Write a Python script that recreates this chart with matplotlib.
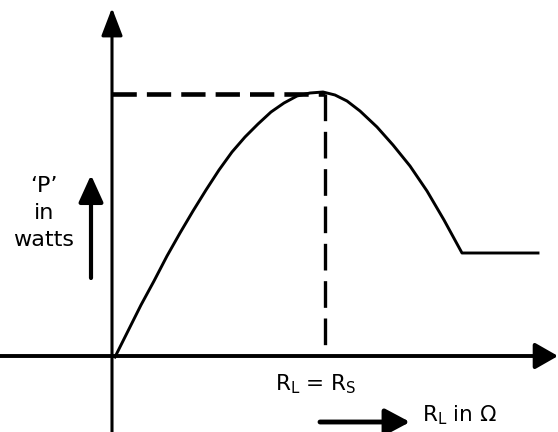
import matplotlib.pyplot as plt

plt.rcParams['mathtext.default'] = 'regular'

# power curve P vs R_L (arbitrary units)
rl = [0, 13, 26, 39, 52, 65, 78, 91, 104, 117, 130, 143, 156, 169, 182, 195, 208,
      220, 232, 245, 262, 278, 295, 312, 329, 347, 423]
power = [0, 26, 52, 76, 101, 124, 146, 167, 187, 205, 220, 233, 245, 254, 261, 264, 265,
         262, 256, 246, 230, 212, 191, 166, 137, 104, 104]
peak_x, peak_y = 210, 263
x_mark_label = 'R$_{L}$ = R$_{S}$'

fig = plt.figure(figsize=(5.58, 4.32), dpi=100)
ax = fig.add_axes([0, 0, 1, 1])
ax.set_xlim(-115, 443)
ax.set_ylim(-75, 357)
ax.axis('off')

# axes with arrow heads
ax.annotate('', xy=(-3, 349), xytext=(-3, -75),
            arrowprops=dict(arrowstyle='-|>,head_length=17,head_width=6.5', mutation_scale=1,
                            lw=2.2, color='black', shrinkA=0, shrinkB=0))
ax.annotate('', xy=(443, 1), xytext=(-115, 1),
            arrowprops=dict(arrowstyle='-|>,head_length=14,head_width=8', mutation_scale=1,
                            lw=2.8, color='black', shrinkA=0, shrinkB=0))

# dashed guides to the maximum
ax.plot([-3, peak_x], [peak_y, peak_y], color='black', lw=3.3, ls=(0, (5.3, 2.2)))
ax.plot([peak_x, peak_x], [peak_y, 1], color='black', lw=2.4, ls=(0, (8, 3.2)))

ax.plot(rl, power, color='black', lw=2.1, solid_joinstyle='round')

# labels
ax.text(-71, 144, '\u2018P\u2019\nin\nwatts', ha='center', va='center', fontsize=16,
        linespacing=1.45)
ax.annotate('', xy=(-24, 182), xytext=(-24, 79),
            arrowprops=dict(arrowstyle='-|>,head_length=16.5,head_width=7.5', mutation_scale=1,
                            lw=3, color='black', shrinkA=0, shrinkB=0))

ax.text(201, -27, x_mark_label, ha='center', va='center', fontsize=15.5)
ax.annotate('', xy=(295, -65), xytext=(205, -65),
            arrowprops=dict(arrowstyle='-|>,head_length=15,head_width=8', mutation_scale=1,
                            lw=3.5, color='black', shrinkA=0, shrinkB=0))
ax.text(307, -58, 'R$_{L}$ in \u03a9', ha='left', va='center', fontsize=15.5)

fig.savefig('out.png', dpi=100)
